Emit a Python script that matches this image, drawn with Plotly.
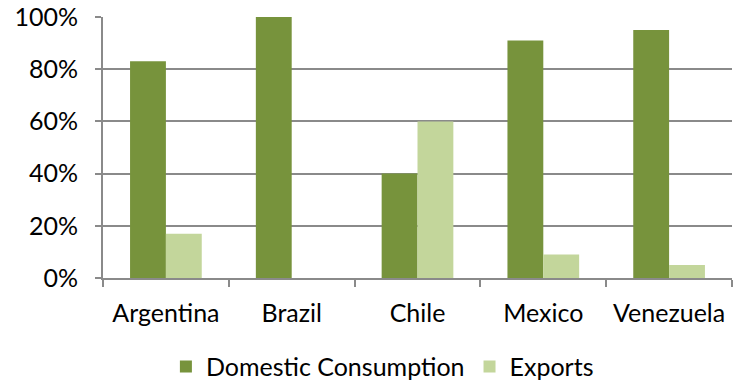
import plotly.graph_objects as go

countries = ["Argentina", "Brazil", "Chile", "Mexico", "Venezuela"]
domestic = [0.83, 1.00, 0.40, 0.91, 0.95]
exports = [0.17, 0.00, 0.60, 0.09, 0.05]

dark = "#77933C"
light = "#C3D69B"
grid = "#8A8A8A"
font = "Lato, Open Sans, sans-serif"

fig = go.Figure()
fig.add_bar(x=countries, y=domestic, name="Domestic Consumption",
            marker=dict(color=dark, line=dict(width=0)))
fig.add_bar(x=countries, y=exports, name="Exports",
            marker=dict(color=light, line=dict(width=0)))

fig.update_layout(
    width=736, height=383,
    margin=dict(l=103, r=4, t=17, b=105, autoexpand=False),
    paper_bgcolor="white", plot_bgcolor="white",
    barmode="group", bargap=0.43, bargroupgap=0,
    font=dict(family=font, size=25, color="black"),
    legend=dict(orientation="h", x=0.1, xanchor="left", y=-0.34, yanchor="middle",
                font=dict(size=25), itemwidth=30, tracegroupgap=0),
    showlegend=True,
)
fig.update_xaxes(
    type="category", tickson="boundaries", ticks="outside", ticklen=7,
    tickcolor=grid, tickwidth=2, showline=True, linecolor=grid, linewidth=2,
    ticklabelstandoff=12, showgrid=False,
)
fig.update_yaxes(
    range=[0, 1], tickformat=".0%", dtick=0.2, ticks="outside", ticklen=6,
    tickcolor=grid, tickwidth=2, showline=True, linecolor=grid, linewidth=2,
    showgrid=True, gridcolor=grid, gridwidth=2, zeroline=False,
    ticklabelstandoff=12,
)

fig.write_html("out.html")
